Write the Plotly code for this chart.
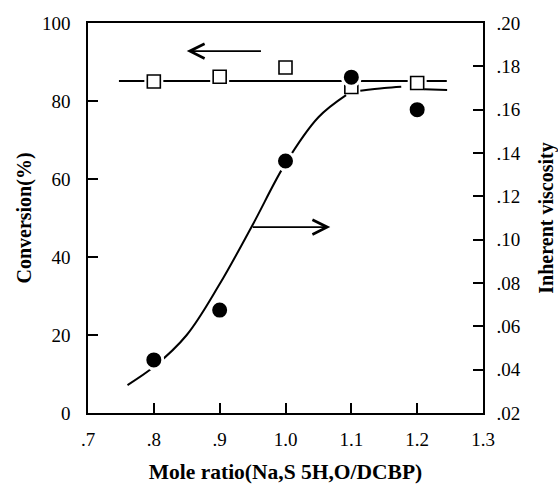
import plotly.graph_objects as go

# ---- data ----
mole_ratio = [0.8, 0.9, 1.0, 1.1, 1.2]
conversion = [85.0, 86.2, 88.6, 83.6, 84.6]
viscosity = [0.0445, 0.0675, 0.1363, 0.175, 0.160]

# fitted lines as drawn in the figure
conv_line_x = [0.747, 1.245]
conv_line_y = [85.1, 85.1]

visc_curve_x = [0.760, 0.800, 0.850, 0.900, 0.950, 1.000, 1.050, 1.092,
                None, 1.1136, 1.15, 1.1758, None, 1.2106, 1.2455]
visc_curve_y = [0.0329, 0.0413, 0.0560, 0.0795, 0.1068, 0.1352, 0.1565, 0.1667,
                None, 0.1687, 0.1700, 0.1706, None, 0.1694, 0.1691]

x_ticks = [0.7, 0.8, 0.9, 1.0, 1.1, 1.2, 1.3]
x_ticktext = [".7", ".8", ".9", "1.0", "1.1", "1.2", "1.3"]
y1_ticks = [0, 20, 40, 60, 80, 100]
y2_ticks = [0.02, 0.04, 0.06, 0.08, 0.10, 0.12, 0.14, 0.16, 0.18, 0.20]
y2_ticktext = [".02", ".04", ".06", ".08", ".10", ".12", ".14", ".16", ".18", ".20"]

FONT = "Liberation Serif"

fig = go.Figure()

fig.add_trace(go.Scatter(x=conv_line_x, y=conv_line_y, mode="lines",
                         line=dict(color="black", width=2), yaxis="y", showlegend=False))
# white halo to break the line around squares
fig.add_trace(go.Scatter(x=mole_ratio, y=conversion, mode="markers",
                         marker=dict(symbol="square", size=19, color="white", line=dict(width=0)),
                         yaxis="y", showlegend=False))
fig.add_trace(go.Scatter(x=mole_ratio, y=conversion, mode="markers",
                         marker=dict(symbol="square", size=13, color="white",
                                     line=dict(color="black", width=1.6)),
                         yaxis="y", showlegend=False))

fig.add_trace(go.Scatter(x=visc_curve_x, y=visc_curve_y, mode="lines",
                         line=dict(color="black", width=2, shape="spline", smoothing=1.0),
                         connectgaps=False, yaxis="y2", showlegend=False))
fig.add_trace(go.Scatter(x=mole_ratio, y=viscosity, mode="markers",
                         marker=dict(symbol="circle", size=18, color="black",
                                     line=dict(color="white", width=3)),
                         yaxis="y2", showlegend=False))

axis_common = dict(showgrid=False, zeroline=False, showline=True, linecolor="black", linewidth=1.6,
                   ticks="inside", ticklen=10, tickwidth=1.6, tickcolor="black", automargin=False,
                   tickfont=dict(family=FONT, size=19, color="black"))

fig.update_layout(
    width=558, height=486,
    margin=dict(l=88, r=75, t=23, b=73),
    paper_bgcolor="white", plot_bgcolor="white",
    font=dict(family=FONT, color="black"),
    xaxis=dict(range=[0.7, 1.3], tickvals=x_ticks, ticktext=x_ticktext, mirror=True,
               ticklabelstandoff=8,
               title=dict(text="Mole ratio(Na,S 5H,O/DCBP)", standoff=15,
                          font=dict(family=FONT, size=21.5, color="black", weight="bold")),
               **axis_common),
    yaxis=dict(range=[0, 100], tickvals=y1_ticks, ticklabelstandoff=12,
               title=dict(text="Conversion(%)", standoff=5,
                          font=dict(family=FONT, size=20, color="black", weight="bold")),
               **axis_common),
    yaxis2=dict(range=[0.02, 0.20], tickvals=y2_ticks, ticktext=y2_ticktext, overlaying="y",
                side="right", ticklabelstandoff=8,
                title=dict(text="Inherent viscosity", standoff=20,
                           font=dict(family=FONT, size=20, color="black", weight="bold")),
                **axis_common),
)

# arrows indicating which axis each curve belongs to
fig.add_annotation(x=0.850, y=92.8, ax=0.965, ay=92.8, xref="x", yref="y", axref="x", ayref="y",
                   text="", showarrow=True, arrowhead=5, arrowsize=1.6, arrowwidth=1.8,
                   arrowcolor="black")
fig.add_annotation(x=1.068, y=0.1058, ax=0.948, ay=0.1058, xref="x", yref="y2", axref="x", ayref="y2",
                   text="", showarrow=True, arrowhead=5, arrowsize=1.6, arrowwidth=1.8,
                   arrowcolor="black")

fig.write_html("out.html")
